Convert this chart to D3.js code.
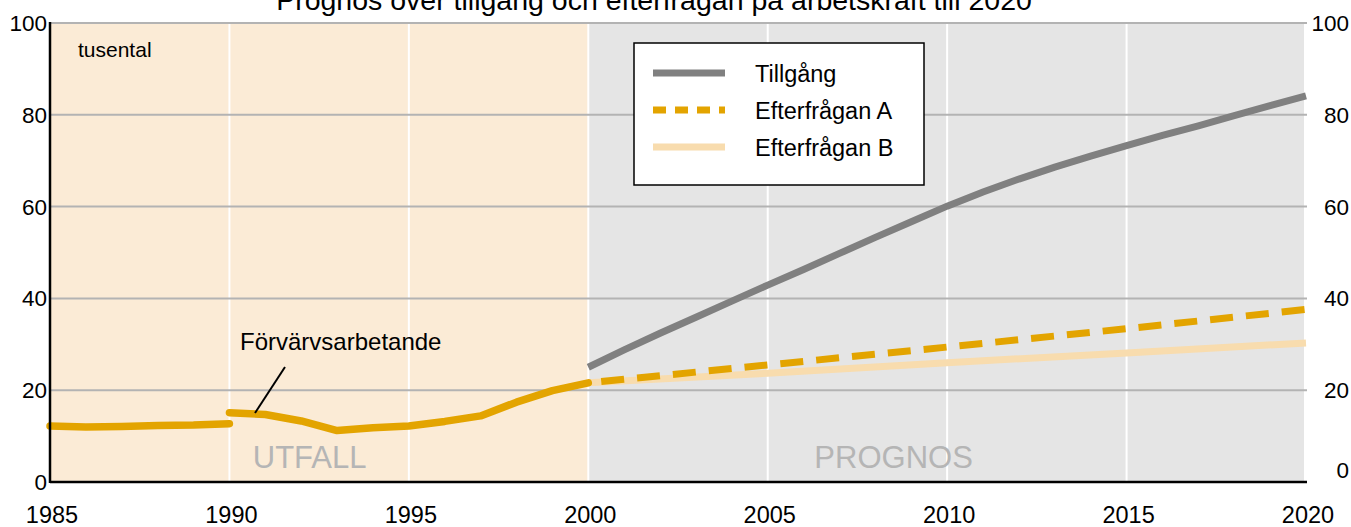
<!DOCTYPE html>
<html lang="sv">
<head>
<meta charset="UTF-8">
<title>Prognos över tillgång och efterfrågan på arbetskraft till 2020</title>
<script src="https://d3js.org/d3.v7.min.js"></script>
<style>
  body { margin: 0; background: #ffffff; }
  svg { display: block; font-family: "Liberation Sans", Arial, sans-serif; }
</style>
</head>
<body>
<div id="chart"></div>
<script>
// data (tusental)
var utfallYears1 = [1985, 1986, 1987, 1988, 1989, 1990];
var utfallValues1 = [12.2, 12.0, 12.1, 12.3, 12.4, 12.7];
var utfallYears2 = [1990, 1991, 1992, 1993, 1994, 1995, 1996, 1997, 1998, 1999, 2000];
var utfallValues2 = [15.1, 14.7, 13.3, 11.2, 11.8, 12.2, 13.2, 14.4, 17.4, 19.9, 21.6];
var tillgangYears = [2000, 2001, 2002, 2003, 2004, 2005, 2006, 2007, 2008, 2009, 2010,
                     2011, 2012, 2013, 2014, 2015, 2016, 2017, 2018, 2019, 2020];
var tillgangValues = [25.0, 28.8, 32.4, 35.9, 39.4, 42.9, 46.3, 49.8, 53.3, 56.7, 60.1,
                      63.2, 66.0, 68.6, 71.0, 73.3, 75.5, 77.6, 79.8, 82.0, 84.1];
var prognosYears = [2000, 2005, 2010, 2015, 2020];
var efterfraganA = [21.6, 25.5, 29.4, 33.4, 37.6];
var efterfraganB = [21.6, 23.7, 26.0, 28.1, 30.3];
var yearTicks = [1985, 1990, 1995, 2000, 2005, 2010, 2015, 2020];
var valueTicks = [0, 20, 40, 60, 80, 100];

var W = 1351, H = 527;
var svg = d3.select("#chart").append("svg")
    .attr("width", W)
    .attr("height", H);

var x = d3.scaleLinear().domain([1985, 2020]).range([50, 1306]);
var y = d3.scaleLinear().domain([0, 100]).range([482, 23]);

// background areas
svg.append("rect")
    .attr("x", x(1985)).attr("y", y(100))
    .attr("width", x(2000) - x(1985)).attr("height", y(0) - y(100))
    .attr("fill", "#fbebd6");
svg.append("rect")
    .attr("x", x(2000)).attr("y", y(100))
    .attr("width", x(2020) - x(2000) - 2).attr("height", y(0) - y(100))
    .attr("fill", "#e5e5e5");

// vertical white grid
svg.append("g")
  .selectAll("line")
  .data(yearTicks.filter(function(d) { return d > 1985 && d < 2020; }))
  .enter().append("line")
    .attr("x1", function(d) { return x(d); })
    .attr("x2", function(d) { return x(d); })
    .attr("y1", y(100)).attr("y2", y(0))
    .attr("stroke", "#ffffff")
    .attr("stroke-width", 2);

// horizontal grid
svg.append("g")
  .selectAll("line")
  .data(valueTicks.filter(function(d) { return d > 0; }))
  .enter().append("line")
    .attr("x1", x(1985)).attr("x2", x(2020) + 1)
    .attr("y1", function(d) { return y(d); })
    .attr("y2", function(d) { return y(d); })
    .attr("stroke", "#b3b3b3")
    .attr("stroke-width", 2);

// text labels in background
svg.append("text")
    .attr("x", x(1990.65)).attr("y", 468)
    .attr("font-size", "31px").attr("fill", "#b5b5b5")
    .text("UTFALL");
svg.append("text")
    .attr("x", x(2006.3)).attr("y", 468)
    .attr("font-size", "31px").attr("fill", "#b5b5b5")
    .text("PROGNOS");

var line = d3.line()
    .x(function(d) { return x(d[0]); })
    .y(function(d) { return y(d[1]); });

function pairs(xs, ys) { return xs.map(function(v, i) { return [v, ys[i]]; }); }

// Efterfrågan B
svg.append("path")
    .attr("d", line(pairs(prognosYears, efterfraganB)))
    .attr("fill", "none")
    .attr("stroke", "#f8dcae")
    .attr("stroke-width", 7);

// Efterfrågan A
svg.append("path")
    .attr("d", line(pairs(prognosYears, efterfraganA)))
    .attr("fill", "none")
    .attr("stroke", "#e3a400")
    .attr("stroke-width", 7)
    .attr("stroke-dasharray", "23,13")
    .attr("stroke-dashoffset", -13);

// Tillgång
svg.append("path")
    .attr("d", line(pairs(tillgangYears, tillgangValues)))
    .attr("fill", "none")
    .attr("stroke", "#808080")
    .attr("stroke-width", 7);

// Förvärvsarbetande (utfall)
[pairs(utfallYears1, utfallValues1), pairs(utfallYears2, utfallValues2)].forEach(function(seg) {
  svg.append("path")
      .attr("d", line(seg))
      .attr("fill", "none")
      .attr("stroke", "#e3a400")
      .attr("stroke-width", 7.5)
      .attr("stroke-linecap", "round")
      .attr("stroke-linejoin", "round");
});

// axes lines
svg.append("line")
    .attr("x1", x(1985)).attr("x2", x(1985))
    .attr("y1", y(100) - 1).attr("y2", y(0) + 1)
    .attr("stroke", "#000").attr("stroke-width", 2.5);
svg.append("line")
    .attr("x1", x(1985)).attr("x2", x(2020) + 1)
    .attr("y1", y(0)).attr("y2", y(0))
    .attr("stroke", "#000").attr("stroke-width", 2.5);

// left tick labels
svg.append("g")
  .selectAll("text")
  .data(valueTicks)
  .enter().append("text")
    .attr("x", 47)
    .attr("y", function(d) { return y(d) + 8; })
    .attr("text-anchor", "end")
    .attr("font-size", "22.5px")
    .text(function(d) { return d; });

// right tick labels
svg.append("g")
  .selectAll("text")
  .data(valueTicks)
  .enter().append("text")
    .attr("x", 1349)
    .attr("y", function(d) { return (d === 0 ? y(0) - 12 : y(d)) + 8; })
    .attr("text-anchor", "end")
    .attr("font-size", "22.5px")
    .text(function(d) { return d; });

// bottom tick labels
svg.append("g")
  .selectAll("text")
  .data(yearTicks)
  .enter().append("text")
    .attr("x", function(d) { return x(d) + 2; })
    .attr("y", 523)
    .attr("text-anchor", "middle")
    .attr("font-size", "23.5px")
    .text(function(d) { return d; });

// title (cut at the top, as in the source)
svg.append("text")
    .attr("x", 654).attr("y", 10)
    .attr("text-anchor", "middle")
    .attr("font-size", "28.5px")
    .text("Prognos över tillgång och efterfrågan på arbetskraft till 2020");

svg.append("text")
    .attr("x", 78).attr("y", 57)
    .attr("font-size", "21px")
    .text("tusental");

// annotation
svg.append("text")
    .attr("x", 240).attr("y", 350)
    .attr("font-size", "24px")
    .text("Förvärvsarbetande");
svg.append("line")
    .attr("x1", 285).attr("y1", 367)
    .attr("x2", 255).attr("y2", 413)
    .attr("stroke", "#000").attr("stroke-width", 2);

// legend
var legendNames = ["Tillgång", "Efterfrågan A", "Efterfrågan B"];
var legendColors = ["#808080", "#e3a400", "#f8dcae"];
var legendDash = [null, "13,9", null];
var legend = svg.append("g");
legend.append("rect")
    .attr("x", 634).attr("y", 43)
    .attr("width", 290).attr("height", 142)
    .attr("fill", "#fff").attr("stroke", "#000").attr("stroke-width", 1.5);
legendNames.forEach(function(name, i) {
  var ly = 73 + i * 37;
  legend.append("line")
      .attr("x1", 653).attr("x2", 725)
      .attr("y1", ly).attr("y2", ly)
      .attr("stroke", legendColors[i])
      .attr("stroke-width", 7)
      .attr("stroke-dasharray", legendDash[i]);
  legend.append("text")
      .attr("x", 755).attr("y", ly + 9)
      .attr("font-size", "23.5px")
      .text(name);
});
</script>
</body>
</html>
